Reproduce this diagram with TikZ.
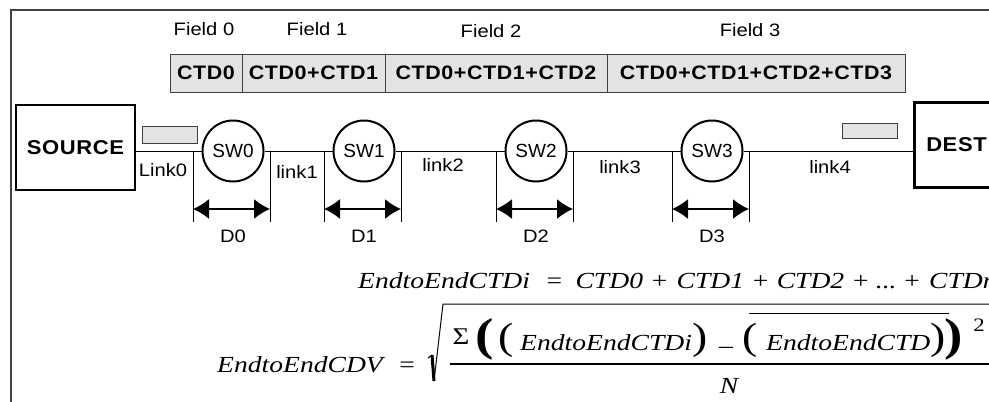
\documentclass[tikz,border=0pt]{standalone}
\usepackage{fontspec}
\setmainfont{Liberation Sans}
\newfontfamily\labfont[FakeStretch=1.12]{Liberation Sans}
\newfontfamily\headfont[FakeStretch=1.1,LetterSpace=3]{Liberation Sans}
\newfontfamily\eqfont[FakeStretch=1.2]{Liberation Serif}
\usetikzlibrary{arrows.meta}

\begin{document}
\begin{tikzpicture}[x=1pt, y=-1pt,
        lbl/.style={font=\labfont\fontsize{18}{20}\selectfont, inner sep=1pt},
        endbox/.style={rectangle, draw, line width=2.5pt, minimum width=119pt, minimum height=85pt, font=\headfont\bfseries\fontsize{20}{22}\selectfont},
        ctd/.style={rectangle, draw=black!75, fill=gray!22, line width=1pt, minimum height=38pt, inner sep=0pt, font=\headfont\bfseries\fontsize{19.5}{22}\selectfont},
        pkt/.style={rectangle, draw=black!75, fill=gray!22, line width=1pt, minimum width=55pt},
        sw/.style={circle, draw, line width=2pt, minimum size=61pt, inner sep=0pt, font=\fontsize{19}{21}\selectfont},
        dimarrow/.style={{Latex[length=16pt,width=20pt]}-{Latex[length=16pt,width=20pt]}, line width=1.5pt},
        eq/.style={font=\eqfont\itshape\fontsize{23}{26}\selectfont, inner sep=0pt},
        paren/.style={font=\eqfont\fontsize{38}{40}\selectfont, inner sep=0pt},
        bigparen/.style={font=\eqfont\bfseries\fontsize{46}{48}\selectfont, inner sep=0pt},
    ]
    \useasboundingbox (0,0) rectangle (989,402);
    \clip (0,0) rectangle (989,402);
    \draw[line width=1.6pt, black!75] (11,402) -- (11,10) -- (995,10);

    % header fields
    \foreach \i/\c/\w/\t in {0/206/72/CTD0, 1/313.5/143/CTD0+CTD1, 2/496/222/CTD0+CTD1+CTD2, 3/756/298/CTD0+CTD1+CTD2+CTD3}
        \node[ctd, minimum width=\w pt] (f\i) at (\c,73) {\t};
    \node[lbl] (fl0) at (204,29) {Field 0};
    \node[lbl] (fl1) at (317,29) {Field 1};
    \node[lbl] (fl2) at (491,31) {Field 2};
    \node[lbl] (fl3) at (750,30) {Field 3};

    % end systems and packets
    \node[endbox] (src) at (75.5,147.5) {SOURCE};
    \node[endbox, anchor=west, text width=95pt, inner xsep=12pt, align=left] (dst) at (913,145) {DEST};
    \node[pkt, minimum height=17pt] (pkt0) at (169.5,134.5) {};
    \node[pkt, minimum height=15pt] (pkt1) at (869.5,130.5) {};

    % switches and links
    \foreach \i/\x in {0/233,1/364,2/536,3/712}
        \node[sw] (sw\i) at (\x,151) {SW\i};
    \draw (src.east |- sw0) -- (sw0);
    \draw (sw0) -- (sw1);
    \draw (sw1) -- (sw2);
    \draw (sw2) -- (sw3);
    \draw (sw3) -- (sw3 -| dst.west);
    \node[lbl] (l0) at (163,170) {Link0};
    \node[lbl] (l1) at (297,172) {link1};
    \node[lbl] (l2) at (443,165) {link2};
    \node[lbl] (l3) at (620,167) {link3};
    \node[lbl] (l4) at (830,167) {link4};

    % switch delays
    \foreach \i in {0,...,3}{
        \coordinate (dl\i) at ([xshift=-40pt]sw\i.center);
        \coordinate (dr\i) at ([xshift=37pt]sw\i.center);
        \draw (dl\i) -- ++(0,71);
        \draw (dr\i) -- ++(0,71);
        \draw[dimarrow] ([yshift=-58pt]dl\i) -- ([yshift=-58pt]dr\i);
        \node[lbl] (d\i) at ([yshift=-85pt]sw\i.center) {D\i};
    }

    % end-to-end CTD
    \node[eq, anchor=base west] (ctdi) at (358,288) {EndtoEndCTDi\hspace{15pt}=\hspace{12pt}CTD0\hspace{7pt}+\hspace{8pt}CTD1\hspace{7pt}+\hspace{7pt}CTD2\hspace{7pt}+\hspace{6pt}...\hspace{6pt}+\hspace{8pt}CTDn};

    % end-to-end CDV
    \node[eq, anchor=base west] (cdv) at (217,372) {EndtoEndCDV};
    \node[eq, anchor=base] (eqs) at (407,372) {=};
    \draw[line width=1pt] (428,358) -- (432,355);
    \draw[line width=3pt] (432,355) -- (434,381);
    \draw[line width=1pt] (434,381) -- (443,304) -- (995,304);
    \node[font=\eqfont\fontsize{24}{26}\selectfont, inner sep=0pt] (sig) at (461,337) {Σ};
    \node[bigparen] (bp0) at (485,339) {(};
    \node[paren] (p0) at (506,340) {(};
    \node[eq, anchor=base west] (num1) at (520,350) {EndtoEndCTDi};
    \node[paren] (p1) at (700,340) {)};
    \node[eq] (mns) at (726,347) {\_};
    \node[paren] (p2) at (750,340) {(};
    \node[eq, anchor=base west] (num2) at (766,350) {EndtoEndCTD};
    \node[paren] (p3) at (938,340) {)};
    \node[bigparen] (bp1) at (954,339) {)};
    \node[font=\eqfont\fontsize{19}{21}\selectfont, inner sep=0pt] (sq) at (979,325) {2};
    \draw[line width=1pt] (749,313) -- (949,313);
    \draw[line width=1.5pt] (450,364) -- (995,364);
    \node[eq, anchor=base] (nn) at (729,393) {N};
\end{tikzpicture}
\end{document}
